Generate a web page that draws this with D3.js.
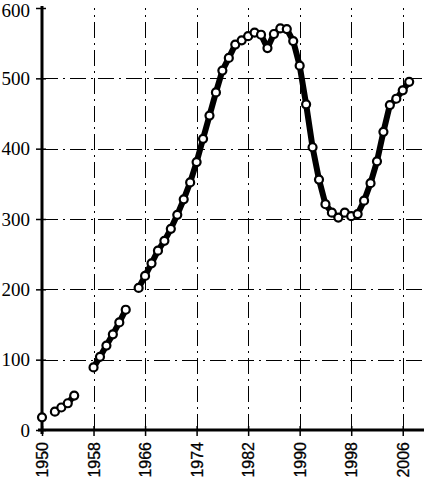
<!DOCTYPE html>
<html>
<head>
<meta charset="utf-8">
<script src="https://cdn.jsdelivr.net/npm/d3@7"></script>
<style>
  body { margin: 0; background: #fff; }
  svg { display: block; }
</style>
</head>
<body>
<svg id="chart" width="424" height="483"></svg>
<script>
// years with no value are left out of the line (gaps)
var years = [1950, 1951, 1952, 1953, 1954, 1955, 1956, 1957, 1958, 1959, 1960, 1961, 1962, 1963, 1964,
  1965, 1966, 1967, 1968, 1969, 1970, 1971, 1972, 1973, 1974, 1975, 1976, 1977, 1978, 1979,
  1980, 1981, 1982, 1983, 1984, 1985, 1986, 1987, 1988, 1989, 1990, 1991, 1992, 1993, 1994,
  1995, 1996, 1997, 1998, 1999, 2000, 2001, 2002, 2003, 2004, 2005, 2006, 2007];
var values = [18, null, 26, 32, 38, 49, null, null, 89, 104, 120, 136, 153, 171, null,
  202, 219, 237, 255, 269, 286, 306, 328, 352, 381, 414, 447, 480, 511, 529,
  548, 554, 560, 565, 562, 543, 563, 571, 570, 553, 518, 463, 402, 356, 321,
  309, 302, 309, 304, 307, 326, 351, 382, 424, 462, 471, 483, 495];
var yTicks = [0, 100, 200, 300, 400, 500, 600];
var xTicks = [1950, 1958, 1966, 1974, 1982, 1990, 1998, 2006];

var svg = d3.select('#chart');

var x = d3.scaleLinear().domain([1950, 2009.3]).range([42, 424]);
var y = d3.scaleLinear().domain([0, 600]).range([430, 8]);

var data = years.map(function(yr, i) { return { year: yr, value: values[i] }; });

// grid
var grid = svg.append('g')
  .attr('stroke', '#000')
  .attr('stroke-width', 1)
  .attr('stroke-dasharray', '16,5,2,5');

grid.selectAll('line.h')
  .data(yTicks.filter(function(d) { return d > 0 && d < 600; }))
  .enter().append('line')
  .attr('class', 'h')
  .attr('x1', x(1950)).attr('x2', 424)
  .attr('y1', function(d) { return Math.round(y(d)) + 0.5; })
  .attr('y2', function(d) { return Math.round(y(d)) + 0.5; });

grid.selectAll('line.v')
  .data(xTicks.slice(1))
  .enter().append('line')
  .attr('class', 'v')
  .attr('x1', function(d) { return Math.round(x(d)) + 0.5; })
  .attr('x2', function(d) { return Math.round(x(d)) + 0.5; })
  .attr('y1', y(0)).attr('y2', y(600));

// axes
var yAxis = d3.axisLeft(y).tickValues(yTicks).tickSize(6).tickPadding(6);
var gy = svg.append('g').attr('transform', 'translate(' + x(1950) + ',0)').call(yAxis);
gy.select('.domain').remove();
gy.selectAll('.tick line').attr('x1', 4).attr('x2', -6).attr('stroke-width', 1.5);
gy.selectAll('.tick text')
  .attr('font-family', '"Liberation Serif", "Times New Roman", serif')
  .attr('font-size', 19)
  .attr('fill', '#000')
  .attr('dy', function(d) { return d === 600 ? '0.45em' : '0.32em'; });

var xAxis = d3.axisBottom(x).tickValues(xTicks).tickFormat(d3.format('d')).tickSize(6);
var gx = svg.append('g').attr('transform', 'translate(0,' + y(0) + ')').call(xAxis);
gx.select('.domain').remove();
gx.selectAll('.tick line').attr('y1', -4).attr('y2', 6).attr('stroke-width', 1.5);
gx.selectAll('.tick text')
  .attr('font-family', '"Liberation Sans", Arial, sans-serif')
  .attr('font-size', 16)
  .attr('fill', '#000')
  .attr('stroke', '#000')
  .attr('stroke-width', 0.3)
  .attr('text-anchor', 'end')
  .attr('transform', 'rotate(-90)')
  .attr('x', -12)
  .attr('y', 0)
  .attr('dy', '0.35em');

// axis lines (thick)
svg.append('line')
  .attr('x1', x(1950)).attr('x2', x(1950))
  .attr('y1', y(0) + 4).attr('y2', y(600) - 2)
  .attr('stroke', '#000').attr('stroke-width', 3);
svg.append('line')
  .attr('x1', x(1950) - 4).attr('x2', 424)
  .attr('y1', y(0)).attr('y2', y(0))
  .attr('stroke', '#000').attr('stroke-width', 3);

// series line
var line = d3.line()
  .defined(function(d) { return d.value !== null; })
  .x(function(d) { return x(d.year); })
  .y(function(d) { return y(d.value); });

svg.append('path')
  .datum(data)
  .attr('fill', 'none')
  .attr('stroke', '#000')
  .attr('stroke-width', 6)
  .attr('stroke-linejoin', 'round')
  .attr('d', line);

svg.selectAll('circle.pt')
  .data(data.filter(function(d) { return d.value !== null; }))
  .enter().append('circle')
  .attr('class', 'pt')
  .attr('cx', function(d) { return x(d.year); })
  .attr('cy', function(d) { return y(d.value); })
  .attr('r', 4)
  .attr('fill', '#fff')
  .attr('stroke', '#000')
  .attr('stroke-width', 2.2);
</script>
</body>
</html>
